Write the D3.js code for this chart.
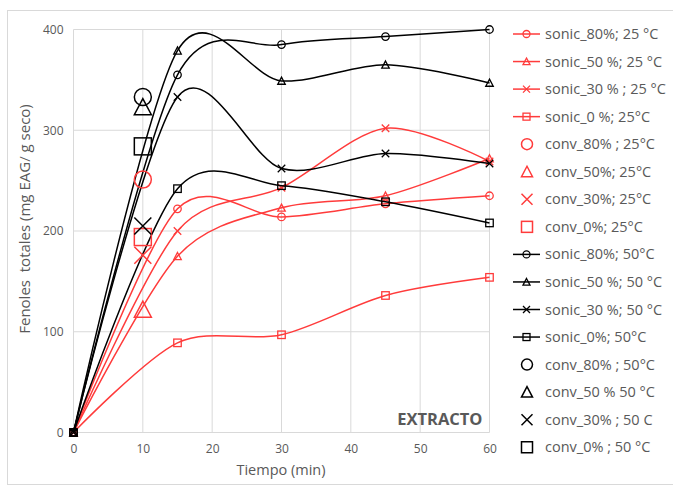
<!DOCTYPE html>
<html>
<head>
<meta charset="utf-8">
<script src="https://cdn.jsdelivr.net/npm/d3@7"></script>
<style>
  body { margin: 0; background: #fff; }
  text { font-family: "Open Sans", "Noto Sans", sans-serif; fill: #595959; }
</style>
</head>
<body>
<div id="chart"></div>
<script>
// time points (min)
const times = [0, 15, 30, 45, 60];

// sonic series, 25 °C (red)
const sonic80_25 = [0, 222, 214, 227, 235];
const sonic50_25 = [0, 175, 223, 235, 272];
const sonic30_25 = [0, 200, 243, 302, 269];
const sonic0_25 = [0, 89, 97, 136, 154];

// sonic series, 50 °C (black)
const sonic80_50 = [0, 355, 385, 393, 400];
const sonic50_50 = [0, 379, 349, 365, 347];
const sonic30_50 = [0, 333, 262, 277, 267];
const sonic0_50 = [0, 242, 245, 229, 208];

// conventional extraction, single point at 10 min
const convTime = 10;
const conv25 = [251, 122, 176, 194]; // 80, 50, 30, 0 %
const conv50 = [333, 323, 205, 284];

const xTicks = [0, 10, 20, 30, 40, 50, 60];
const yTicks = [0, 100, 200, 300, 400];

const RED = "#ff3b3b", BLACK = "#000";

const series = [
  { name: "sonic_80%; 25 °C", color: RED, shape: "circle", values: sonic80_25 },
  { name: "sonic_50 %; 25 °C", color: RED, shape: "triangle", values: sonic50_25 },
  { name: "sonic_30 % ; 25 °C", color: RED, shape: "cross", values: sonic30_25 },
  { name: "sonic_0 %; 25°C", color: RED, shape: "square", values: sonic0_25 },
  { name: "sonic_80%; 50°C", color: BLACK, shape: "circle", values: sonic80_50 },
  { name: "sonic_50 %; 50 °C", color: BLACK, shape: "triangle", values: sonic50_50 },
  { name: "sonic_30 %; 50 °C", color: BLACK, shape: "cross", values: sonic30_50 },
  { name: "sonic_0%; 50°C", color: BLACK, shape: "square", values: sonic0_50 }
];
const convNames25 = ["conv_80% ; 25°C", "conv_50%; 25°C", "conv_30%; 25°C", "conv_0%; 25°C"];
const convNames50 = ["conv_80% ; 50°C", "conv_50 % 50 °C", "conv_30% ; 50 C", "conv_0% ; 50 °C"];
const shapes = ["circle", "triangle", "cross", "square"];

const legendItems = [
  ...series.slice(0, 4).map(s => ({ name: s.name, color: s.color, shape: s.shape, line: true })),
  ...convNames25.map((n, i) => ({ name: n, color: RED, shape: shapes[i], line: false })),
  ...series.slice(4).map(s => ({ name: s.name, color: s.color, shape: s.shape, line: true })),
  ...convNames50.map((n, i) => ({ name: n, color: BLACK, shape: shapes[i], line: false }))
];

const W = 673, H = 486;
const margin = { top: 29.5, left: 73.5, right: 183.5, bottom: 53.5 };
const width = W - margin.left - margin.right;
const height = H - margin.top - margin.bottom;

const svgRoot = d3.select("#chart").append("svg")
  .attr("width", W).attr("height", H);

// chart frame
svgRoot.append("rect")
  .attr("x", 7.5).attr("y", 10.5)
  .attr("width", 680).attr("height", 474)
  .attr("fill", "none").attr("stroke", "#d9d9d9");

const svg = svgRoot.append("g")
  .attr("transform", `translate(${margin.left},${margin.top})`);

const x = d3.scaleLinear().domain([0, 60]).range([0, width]);
const y = d3.scaleLinear().domain([0, 400]).range([height, 0]);

// grid
svg.selectAll("line.vg").data(xTicks).enter().append("line")
  .attr("x1", d => x(d)).attr("x2", d => x(d))
  .attr("y1", 0).attr("y2", height)
  .attr("stroke", "#d9d9d9").attr("stroke-width", 1);
svg.selectAll("line.hg").data(yTicks).enter().append("line")
  .attr("x1", 0).attr("x2", width)
  .attr("y1", d => y(d)).attr("y2", d => y(d))
  .attr("stroke", "#d9d9d9").attr("stroke-width", 1);

// axes
const xAxis = svg.append("g")
  .attr("transform", `translate(0,${height})`)
  .call(d3.axisBottom(x).tickValues(xTicks).tickSize(0).tickPadding(12));
const yAxis = svg.append("g")
  .call(d3.axisLeft(y).tickValues(yTicks).tickSize(0).tickPadding(10));
[xAxis, yAxis].forEach(a => {
  a.select(".domain").remove();
  a.selectAll("text").style("font-size", "12px").style("fill", "#595959")
    .style("font-family", "'Open Sans', sans-serif");
});

svgRoot.append("text")
  .attr("x", 281).attr("y", 475)
  .attr("text-anchor", "middle")
  .style("font-size", "14.5px")
  .text("Tiempo (min)");

svgRoot.append("text")
  .attr("transform", "translate(30,219) rotate(-90)")
  .attr("text-anchor", "middle")
  .style("font-size", "15px")
  .attr("xml:space", "preserve")
  .style("white-space", "pre")
  .text("Fenoles  totales (mg EAG/ g seco)");

svg.append("text")
  .attr("x", width - 7).attr("y", height - 8)
  .attr("text-anchor", "end")
  .style("font-size", "16.5px")
  .style("font-weight", "bold")
  .style("fill", "#595959")
  .text("EXTRACTO");

function drawMarker(g, shape, cx, cy, size, color, sw) {
  const r = size / 2;
  if (shape === "circle") {
    g.append("circle").attr("cx", cx).attr("cy", cy).attr("r", r)
      .attr("fill", "none").attr("stroke", color).attr("stroke-width", sw);
  } else if (shape === "square") {
    g.append("rect").attr("x", cx - r).attr("y", cy - r)
      .attr("width", size).attr("height", size)
      .attr("fill", "none").attr("stroke", color).attr("stroke-width", sw);
  } else if (shape === "triangle") {
    g.append("path")
      .attr("d", `M${cx},${cy - r}L${cx + r},${cy + r * 0.9}L${cx - r},${cy + r * 0.9}Z`)
      .attr("fill", "none").attr("stroke", color).attr("stroke-width", sw);
  } else if (shape === "cross") {
    g.append("path")
      .attr("d", `M${cx - r},${cy - r}L${cx + r},${cy + r}M${cx - r},${cy + r}L${cx + r},${cy - r}`)
      .attr("fill", "none").attr("stroke", color).attr("stroke-width", sw);
  }
}

const line = d3.line()
  .x(d => x(d[0])).y(d => y(d[1]))
  .curve(d3.curveCardinal.tension(0.1));

const plot = svg.append("g");
// draw red first, black on top
series.forEach(s => {
  const pts = times.map((t, i) => [t, s.values[i]]);
  plot.append("path").datum(pts)
    .attr("d", line)
    .attr("fill", "none")
    .attr("stroke", s.color)
    .attr("stroke-width", 1.5);
  pts.forEach(p => drawMarker(plot, s.shape, x(p[0]), y(p[1]), 7.5, s.color, 1.3));
});

// conventional points
conv25.forEach((v, i) => drawMarker(plot, shapes[i], x(convTime), y(v), 17, RED, 1.5));
conv50.forEach((v, i) => drawMarker(plot, shapes[i], x(convTime), y(v), 17, BLACK, 1.5));

// legend
const legend = svgRoot.append("g");
legendItems.forEach((d, i) => {
  const ly = 34 + i * 27.55;
  const g = legend.append("g");
  if (d.line) {
    g.append("line").attr("x1", 513).attr("x2", 540).attr("y1", ly).attr("y2", ly)
      .attr("stroke", d.color).attr("stroke-width", 1.5);
    drawMarker(g, d.shape, 526.5, ly, 7, d.color, 1.3);
  } else {
    drawMarker(g, d.shape, 527, ly, 11, d.color, 1.5);
  }
  g.append("text")
    .attr("x", 545).attr("y", ly + 5)
    .style("font-size", "14.5px")
    .text(d.name);
});
</script>
</body>
</html>
